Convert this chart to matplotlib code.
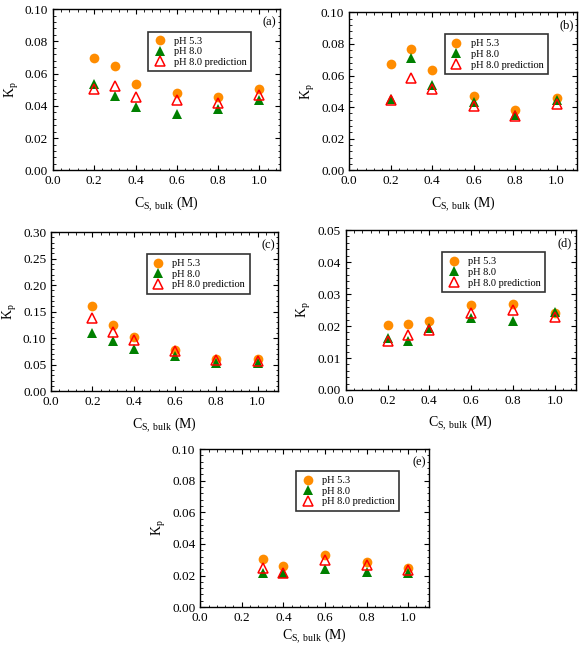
import matplotlib
matplotlib.use('Agg')
import matplotlib.pyplot as plt
from matplotlib.ticker import AutoMinorLocator

plt.rcParams['font.family'] = ['Liberation Serif', 'DejaVu Serif']
plt.rcParams['mathtext.fontset'] = 'custom'
plt.rcParams['mathtext.rm'] = 'Liberation Serif'
plt.rcParams['mathtext.it'] = 'Liberation Serif:italic'

# --- data ---
x_abcd = [0.2, 0.3, 0.4, 0.6, 0.8, 1.0]
x_e = [0.3, 0.4, 0.6, 0.8, 1.0]

a_ph53 = [0.0697, 0.0647, 0.0536, 0.0481, 0.0452, 0.0504]
a_ph80 = [0.0535, 0.0458, 0.0392, 0.0347, 0.0380, 0.0434]
a_pred = [0.0506, 0.0523, 0.0454, 0.0434, 0.0417, 0.0469]

b_ph53 = [0.0671, 0.0768, 0.0633, 0.0470, 0.0382, 0.0459]
b_ph80 = [0.0451, 0.0711, 0.0539, 0.0432, 0.0352, 0.0447]
b_pred = [0.0447, 0.0585, 0.0516, 0.0409, 0.0342, 0.0421]

c_ph53 = [0.160, 0.124, 0.102, 0.078, 0.061, 0.060]
c_ph80 = [0.110, 0.094, 0.079, 0.066, 0.053, 0.053]
c_pred = [0.139, 0.112, 0.096, 0.075, 0.059, 0.058]

d_ph53 = [0.0203, 0.0206, 0.0216, 0.0265, 0.0269, 0.0241]
d_ph80 = [0.0163, 0.0153, 0.0194, 0.0225, 0.0217, 0.0245]
d_pred = [0.0154, 0.0171, 0.0188, 0.0240, 0.0250, 0.0229]

e_ph53 = [0.0303, 0.0262, 0.0328, 0.0287, 0.0247]
e_ph80 = [0.0217, 0.0214, 0.0239, 0.0225, 0.0219]
e_pred = [0.0246, 0.0219, 0.0298, 0.0269, 0.0233]

panels = [
    ('(a)', x_abcd, a_ph53, a_ph80, a_pred, 0.10, 0.02, [0.091, 0.738, 0.390, 0.248]),
    ('(b)', x_abcd, b_ph53, b_ph80, b_pred, 0.10, 0.02, [0.600, 0.738, 0.392, 0.243]),
    ('(c)', x_abcd, c_ph53, c_ph80, c_pred, 0.30, 0.05, [0.088, 0.398, 0.390, 0.245]),
    ('(d)', x_abcd, d_ph53, d_ph80, d_pred, 0.05, 0.01, [0.594, 0.400, 0.395, 0.246]),
    ('(e)', x_e, e_ph53, e_ph80, e_pred, 0.10, 0.02, [0.344, 0.066, 0.393, 0.243]),
]

xt = [0.0, 0.2, 0.4, 0.6, 0.8, 1.0]

fig = plt.figure(figsize=(5.82, 6.5), dpi=100)

for tag, x, p53, p80, pred, ymax, ystep, pos in panels:
    ax = fig.add_axes(pos)
    ax.plot(x, p53, 'o', color='#FF8C00', markersize=7, markeredgewidth=0, label='pH 5.3')
    ax.plot(x, p80, '^', color='#008000', markersize=7, markeredgewidth=0, label='pH 8.0')
    ax.plot(x, pred, '^', color='red', markerfacecolor='none', markersize=6.5,
            markeredgewidth=1.1, label='pH 8.0 prediction')
    ax.set_xlim(0, 1.1)
    ax.set_ylim(0, ymax)
    ax.set_xticks(xt)
    ax.set_xticklabels(['%.1f' % v for v in xt])
    yt = [i * ystep for i in range(int(round(ymax / ystep)) + 1)]
    ax.set_yticks(yt)
    ax.set_yticklabels(['%.2f' % v for v in yt])
    ax.xaxis.set_minor_locator(AutoMinorLocator(5))
    ax.yaxis.set_minor_locator(AutoMinorLocator(5))
    ax.tick_params(which='both', direction='in', top=True, right=True, labelsize=9.5)
    ax.tick_params(which='major', length=3.5, width=0.8)
    ax.tick_params(which='minor', length=1.8, width=0.6)
    for s in ax.spines.values():
        s.set_linewidth(1.0)
    ax.set_xlabel(r'C$_{\mathrm{S,\ bulk}}$ (M)', fontsize=10,
                  labelpad=2 if tag == '(e)' else 5)
    ax.set_ylabel(r'K$_{\mathrm{p}}$', fontsize=10, labelpad=3)
    ax.text(0.985, 0.955, tag, transform=ax.transAxes, ha='right', va='top', fontsize=9)
    leg = ax.legend(loc='upper left', bbox_to_anchor=(0.42, 0.86), fontsize=7.5,
                    frameon=True, fancybox=False, edgecolor='black', handletextpad=0.7,
                    borderpad=0.45, labelspacing=0.12, handlelength=1.3, borderaxespad=0,
                    markerscale=1.0)
    leg.get_frame().set_linewidth(1.2)

fig.savefig('out.png', dpi=100)
